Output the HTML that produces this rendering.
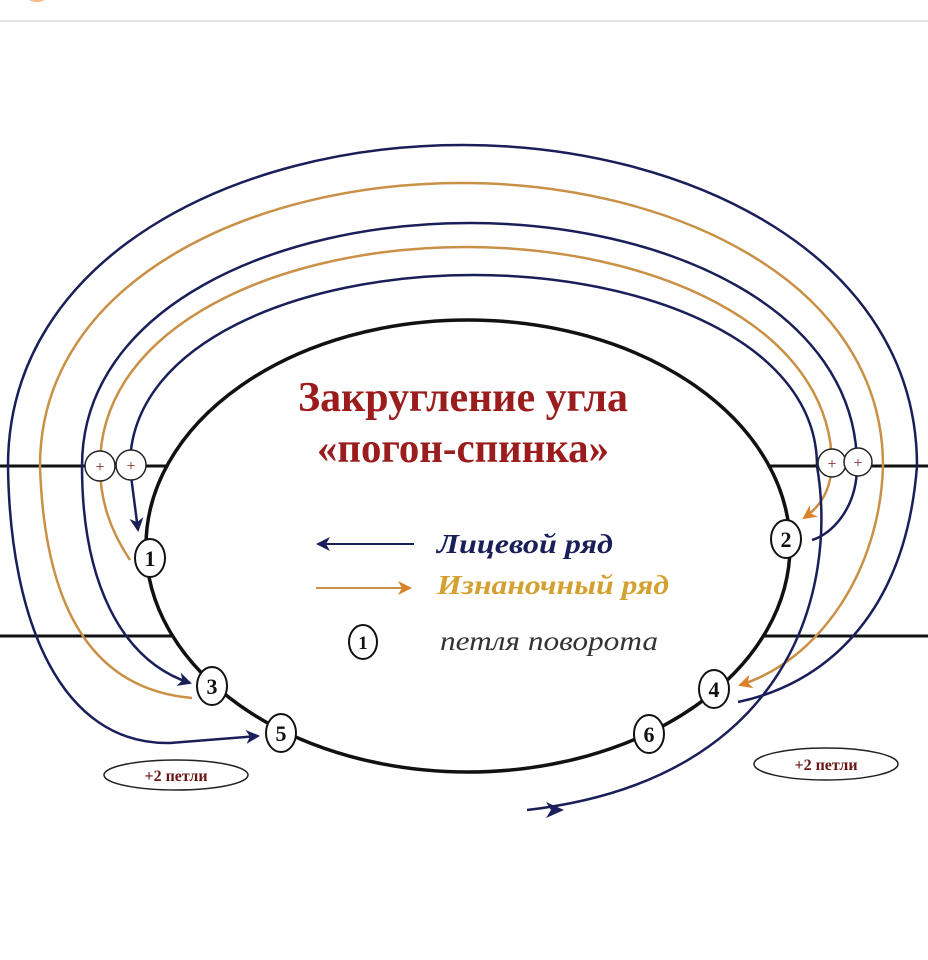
<!DOCTYPE html>
<html><head><meta charset="utf-8"><style>
html,body{margin:0;padding:0;background:#fff;}
svg{display:block;}
.serif{font-family:"Liberation Serif","Times New Roman",serif;}
</style></head><body>
<svg width="928" height="960" viewBox="0 0 928 960" xmlns="http://www.w3.org/2000/svg">
<defs>
<marker id="an" markerWidth="14" markerHeight="14" refX="12" refY="7" orient="auto" markerUnits="userSpaceOnUse"><path d="M0,0 L14,7 L0,14 L4,7 Z" fill="#1a1f5a"/></marker>
<marker id="ao" markerWidth="14" markerHeight="14" refX="12" refY="7" orient="auto" markerUnits="userSpaceOnUse"><path d="M0,0 L14,7 L0,14 L4,7 Z" fill="#d9822b"/></marker>
</defs>
<rect width="928" height="960" fill="#fff"/>
<ellipse cx="37" cy="-6" rx="12" ry="8" fill="#e8a050" opacity="0.7"/>
<line x1="0" y1="21" x2="928" y2="21" stroke="#e6e6e6" stroke-width="2"/>

<g stroke="#111" stroke-width="3">
<line x1="0" y1="466" x2="168" y2="466"/>
<line x1="769" y1="466" x2="928" y2="466"/>
<line x1="0" y1="636" x2="174" y2="636"/>
<line x1="763" y1="636" x2="928" y2="636"/>
</g>

<ellipse cx="468" cy="546" rx="322" ry="226" fill="none" stroke="#111" stroke-width="3.5"/>

<g fill="none" stroke-width="2.5">
<path d="M738 702 C820 685 905 620 917 466 C917 257 689.5 145 462.5 145 C235.5 145 8 257 8 466 C10 620 60 745 170 743 L258 736" stroke="#1a1f5a" marker-end="url(#an)"/>
<path d="M192 698 C100 690 45 620 40 466 C40 282 250.5 183 461.5 183 C672.5 183 883 282 883 466 C880 570 820 660 740 685" stroke="#c99046" marker-end="url(#ao)"/>
<path d="M812 540 C830 535 857 510 857 466 C857 308 663.5 223 469.5 223 C275.5 223 82 308 82 466 C82 580 120 660 190 683" stroke="#1a1f5a" marker-end="url(#an)"/>
<path d="M130 560 C110 530 100 500 100 466 C100 324 283 247 466 247 C649 247 832 324 832 466 C830 490 822 505 804 518" stroke="#c99046" marker-end="url(#ao)"/>
<path d="M130 466 C130 342 301.5 275 473.5 275 C645.5 275 817 342 817 466 C838 590 790 780 527 810" stroke="#1a1f5a"/>
<path d="M131 476 L138 530" stroke="#1a1f5a" marker-end="url(#an)"/>
</g>
<path d="M546 802 L564 810 L546 818 L551 810 Z" fill="#1a1f5a"/>

<g fill="#fff" stroke="#222" stroke-width="1.5">
<circle cx="100" cy="466" r="15"/><circle cx="131" cy="465" r="15"/>
<circle cx="832" cy="463" r="14"/><circle cx="858" cy="462" r="14"/>
</g>
<g class="serif" font-size="16" fill="#7a2020" text-anchor="middle">
<text x="100" y="472">+</text><text x="131" y="471">+</text>
<text x="832" y="469">+</text><text x="858" y="468">+</text>
</g>

<g fill="#fff" stroke="#111" stroke-width="2">
<ellipse cx="150" cy="558" rx="15" ry="19"/>
<ellipse cx="786" cy="539" rx="15" ry="19"/>
<ellipse cx="212" cy="686" rx="15" ry="19"/>
<ellipse cx="714" cy="689" rx="15" ry="19"/>
<ellipse cx="281" cy="733" rx="15" ry="19"/>
<ellipse cx="649" cy="734" rx="15" ry="19"/>
<ellipse cx="363" cy="642" rx="14" ry="17"/>
</g>
<g class="serif" font-size="22" font-weight="bold" fill="#111" text-anchor="middle">
<text x="150" y="566">1</text><text x="786" y="547">2</text><text x="212" y="694">3</text>
<text x="714" y="697">4</text><text x="281" y="741">5</text><text x="649" y="742">6</text>
<text x="363" y="649" font-size="19">1</text>
</g>

<g class="serif" font-weight="bold" font-size="42" fill="#9b1c1c" text-anchor="middle">
<text x="463" y="411" textLength="330" lengthAdjust="spacingAndGlyphs">Закругление угла</text>
<text x="463" y="462" textLength="292" lengthAdjust="spacingAndGlyphs">«погон-спинка»</text>
</g>

<line x1="414" y1="544" x2="318" y2="544" stroke="#1a1f5a" stroke-width="2" marker-end="url(#an)"/>
<line x1="316" y1="588" x2="410" y2="588" stroke="#c99046" stroke-width="2" marker-end="url(#ao)"/>
<g class="serif" font-style="italic" font-size="27">
<text x="437" y="553" font-weight="bold" fill="#1a1f5a" textLength="176" lengthAdjust="spacingAndGlyphs">Лицевой ряд</text>
<text x="437" y="594" font-weight="bold" fill="#d4a030" textLength="232" lengthAdjust="spacingAndGlyphs">Изнаночный ряд</text>
<text x="440" y="650" fill="#333" textLength="218" lengthAdjust="spacingAndGlyphs">петля поворота</text>
</g>

<g fill="#fff" stroke="#222" stroke-width="1.5">
<ellipse cx="176" cy="775" rx="72" ry="15"/>
<ellipse cx="826" cy="764" rx="72" ry="16"/>
</g>
<g class="serif" font-weight="bold" font-size="16" fill="#6a1515" text-anchor="middle">
<text x="176" y="781">+2 петли</text>
<text x="826" y="770">+2 петли</text>
</g>
</svg>
</body></html>
